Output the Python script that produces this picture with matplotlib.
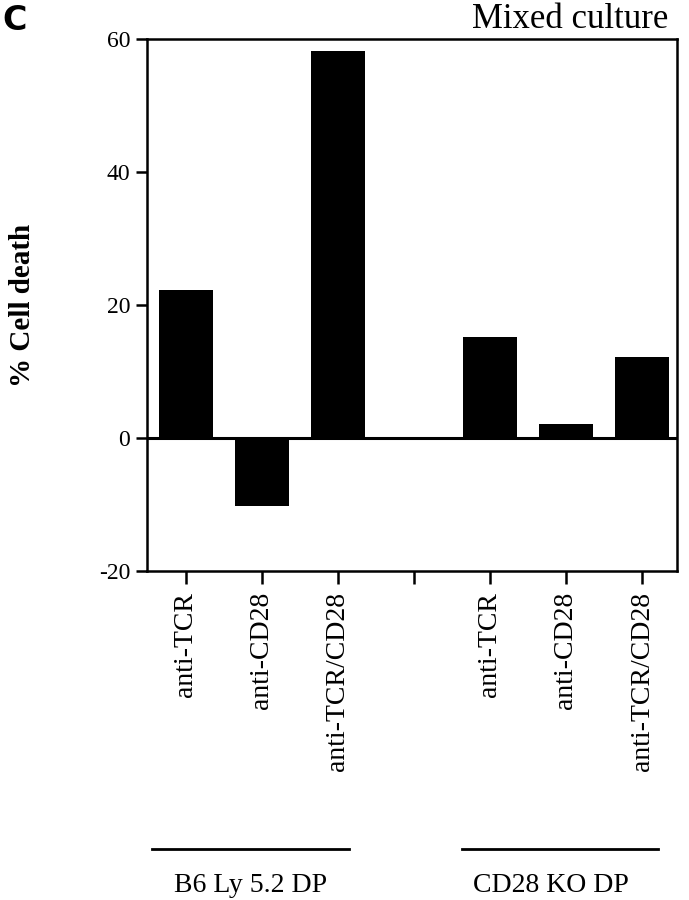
import matplotlib.pyplot as plt
import matplotlib.transforms as mtransforms

conditions = ['anti-TCR', 'anti-CD28', 'anti-TCR/CD28', '',
              'anti-TCR', 'anti-CD28', 'anti-TCR/CD28']
positions = [0, 1, 2, 4, 5, 6]
cell_death = [22.3, -10.2, 58.2, 15.2, 2.1, 12.1]
groups = ['B6 Ly 5.2 DP', 'CD28 KO DP']
group_spans = [(-0.45, 2.15), (3.63, 6.21)]
group_label_x = [0.85, 4.8]

plt.rcParams['font.family'] = ['Liberation Serif', 'DejaVu Serif']
plt.rcParams['axes.unicode_minus'] = False

fig = plt.figure(figsize=(6.89, 9.0), dpi=100)
ax = fig.add_axes([0.2134, 0.3656, 0.7692, 0.5911])

ax.bar(positions, cell_death, width=0.71, color='black')
ax.axhline(0, color='black', linewidth=2.2)

ax.set_xlim(-0.51, 6.46)
ax.set_ylim(-20, 60)
ax.set_yticks([-20, 0, 20, 40, 60])
ax.set_xticks(range(len(conditions)))
ax.set_xticklabels(conditions, rotation=90, fontsize=20)
ax.tick_params(axis='y', labelsize=17, length=8, width=1.8, direction='out', pad=4)
ax.tick_params(axis='x', length=9, width=1.8, direction='out', pad=6)
for s in ax.spines.values():
    s.set_linewidth(1.8)

ax.set_ylabel('% Cell death', fontsize=21, fontweight='bold', labelpad=45)

fig.text(0.9695, 0.969, 'Mixed culture', ha='right', va='baseline', fontsize=25)
fig.text(0.004, 0.967, 'C', ha='left', va='baseline', fontsize=24,
         fontweight='bold', family='DejaVu Sans')

# group brackets below the tick labels
trans = mtransforms.blended_transform_factory(ax.transData, fig.transFigure)
for name, (x0, x1), lx in zip(groups, group_spans, group_label_x):
    ax.plot([x0, x1], [0.0567, 0.0567], color='black', linewidth=2,
            transform=trans, clip_on=False)
    ax.text(lx, 0.0165, name, transform=trans, ha='center',
            va='center', fontsize=20)

fig.savefig('out.png', dpi=100)
